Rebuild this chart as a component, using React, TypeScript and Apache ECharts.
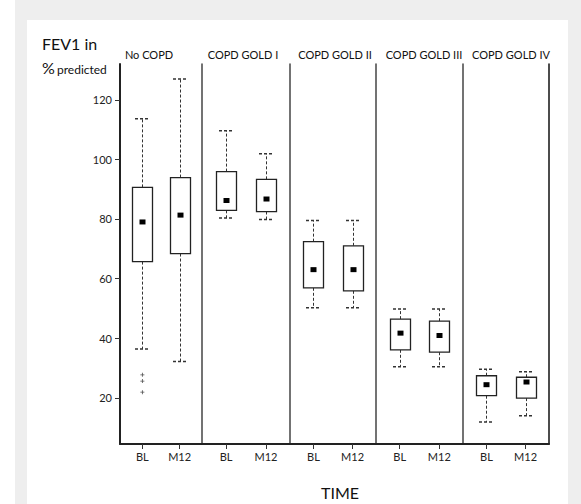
import React, { useEffect, useRef } from "react";
import * as echarts from "echarts";

const groups = ["No COPD", "COPD GOLD I", "COPD GOLD II", "COPD GOLD III", "COPD GOLD IV"];
const times = ["BL", "M12"];
const yTicks = [20, 40, 60, 80, 100, 120];

// [BL, M12] per group
const whiskerLow = [[36.4, 32.2], [80.3, 79.8], [50.2, 50.2], [30.4, 30.4], [11.9, 14.0]];
const quartile1 = [[65.7, 68.4], [82.9, 82.5], [56.9, 55.9], [36.1, 35.3], [20.7, 19.9]];
const centre = [[79.0, 81.3], [86.2, 86.7], [63.0, 63.0], [41.7, 40.9], [24.4, 25.3]];
const quartile3 = [[90.6, 93.9], [95.9, 93.3], [72.4, 71.0], [46.4, 45.7], [27.4, 26.9]];
const whiskerHigh = [[113.6, 127.0], [109.6, 101.9], [79.5, 79.5], [49.8, 49.8], [29.6, 28.7]];
// outliers: [timeIndex, value] for No COPD
const outliersNoCopd = [[0, 27.7], [0, 25.6], [0, 21.9]];

const gridLeft = [120, 202, 290, 376, 463];
const gridRight = 549;
const titleX = [149, 243, 335, 424, 511];

export default function App() {
  const ref = useRef<HTMLDivElement>(null);
  useEffect(() => {
    const chart = echarts.init(ref.current!, null, { renderer: "svg" });
    const font = "Lato, 'Open Sans', sans-serif";
    const grids = groups.map((_, i) => ({
      left: gridLeft[i],
      width: (i < groups.length - 1 ? gridLeft[i + 1] : gridRight) - gridLeft[i],
      top: 64,
      height: 380,
      containLabel: false,
      outerBoundsMode: "none",
    }));
    const xAxes = groups.map((_, i) => ({
      type: "value",
      gridIndex: i,
      min: -0.6,
      max: 1.6,
      axisLine: { show: true, onZero: false, lineStyle: { color: "#222", width: 2 } },
      axisTick: { show: true, inside: false, length: 5, customValues: [0, 1], lineStyle: { color: "#333" } },
      axisLabel: {
        customValues: [0, 1],
        formatter: (v: number) => times[Math.round(v)] ?? "",
        color: "#222",
        fontSize: 11,
        fontFamily: font,
        margin: 7,
      },
      splitLine: { show: false },
    }));
    const yAxes: any[] = groups.map((_, i) => ({
      type: "value",
      gridIndex: i,
      min: 4.5,
      max: 132,
      axisLine: { show: true, onZero: false, lineStyle: { color: i === 0 ? "#222" : "#444", width: i === 0 ? 2 : 1.5 } },
      axisTick: { show: i === 0, length: 5, customValues: yTicks, lineStyle: { color: "#333" } },
      axisLabel: { show: i === 0, customValues: yTicks, color: "#222", fontSize: 11, fontFamily: font, margin: 8 },
      splitLine: { show: false },
    }));
    yAxes.push({
      type: "value",
      gridIndex: groups.length - 1,
      position: "right",
      min: 4.5,
      max: 132,
      axisLine: { show: true, onZero: false, lineStyle: { color: "#111", width: 1.5 } },
      axisTick: { show: false },
      axisLabel: { show: false },
      splitLine: { show: false },
    });

    const series: any[] = groups.map((_, i) => ({
      type: "custom",
      xAxisIndex: i,
      yAxisIndex: i,
      data: times.map((_, t) => [t, whiskerLow[i][t], quartile1[i][t], centre[i][t], quartile3[i][t], whiskerHigh[i][t]]),
      encode: { x: 0, y: [1, 2, 3, 4, 5] },
      renderItem: (params: any, api: any) => {
        const x = api.value(0);
        const pLow = api.coord([x, api.value(1)]);
        const pQ1 = api.coord([x, api.value(2)]);
        const pMed = api.coord([x, api.value(3)]);
        const pQ3 = api.coord([x, api.value(4)]);
        const pHigh = api.coord([x, api.value(5)]);
        const cx = Math.round(pLow[0]) + 0.5;
        const dash = [3, 2];
        const ws = { stroke: "#333", lineWidth: 1, lineDash: dash };
        const cw = 7.5;
        return {
          type: "group",
          children: [
            { type: "line", shape: { x1: cx, y1: pQ3[1], x2: cx, y2: pHigh[1] }, style: ws },
            { type: "line", shape: { x1: cx, y1: pQ1[1], x2: cx, y2: pLow[1] }, style: ws },
            { type: "line", shape: { x1: cx - cw, y1: pHigh[1], x2: cx + cw, y2: pHigh[1] }, style: { ...ws, lineWidth: 1.5 } },
            { type: "line", shape: { x1: cx - cw, y1: pLow[1], x2: cx + cw, y2: pLow[1] }, style: { ...ws, lineWidth: 1.5 } },
            {
              type: "rect",
              shape: { x: cx - 10, y: pQ3[1], width: 20, height: pQ1[1] - pQ3[1] },
              style: { fill: "#fff", stroke: "#222", lineWidth: 1.3 },
            },
            {
              type: "rect",
              shape: { x: cx - 3, y: pMed[1] - 2.5, width: 6, height: 5 },
              style: { fill: "#000" },
            },
          ],
        };
      },
    }));
    series.push({
      type: "scatter",
      xAxisIndex: 0,
      yAxisIndex: 0,
      data: outliersNoCopd,
      symbol: "path://M2,0H3V2H5V3H3V5H2V3H0V2H2Z",
      symbolSize: 4,
      itemStyle: { color: "#222" },
    });

    const graphic: any[] = [
      { type: "rect", z: -10, shape: { x: 15, y: 0, width: 566, height: 504 }, style: { fill: "#eeeeee" } },
      { type: "rect", z: -9, shape: { x: 27, y: 20, width: 541, height: 484 }, style: { fill: "#ffffff" } },
      { type: "text", x: 42, y: 43.5, style: { text: "FEV1 in", fontSize: 16, fontFamily: font, fill: "#111", textVerticalAlign: "middle" } },
      { type: "text", x: 42, y: 67.5, style: { text: "%", fontSize: 16, fontFamily: font, fill: "#111", textVerticalAlign: "middle" } },
      { type: "text", x: 57, y: 69, style: { text: "predicted", fontSize: 12, fontFamily: font, fill: "#111", textVerticalAlign: "middle" } },
      { type: "text", x: 340, y: 492, style: { text: "TIME", fontSize: 16, fontFamily: font, fill: "#111", textAlign: "center", textVerticalAlign: "middle" } },
      ...groups.map((g, i) => ({
        type: "text",
        x: titleX[i],
        y: 54,
        style: { text: g, fontSize: 11, fontFamily: font, fill: "#111", textAlign: "center", textVerticalAlign: "middle" },
      })),
    ];

    chart.setOption({
      animation: false,
      backgroundColor: "#ffffff",
      grid: grids,
      xAxis: xAxes,
      yAxis: yAxes,
      series,
      graphic,
    });
    return () => chart.dispose();
  }, []);
  return <div ref={ref} style={{ position: "absolute", left: 0, top: 0, width: 581, height: 504 }} />;
}
